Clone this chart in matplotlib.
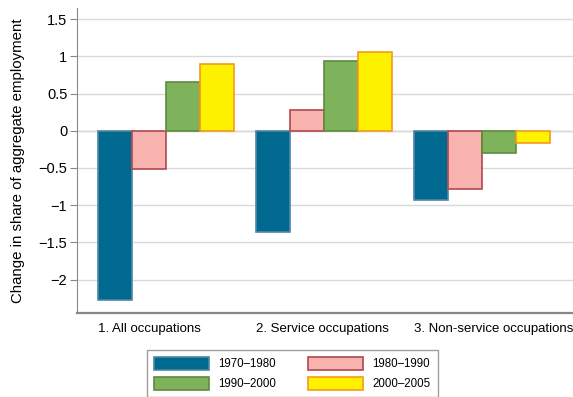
import numpy as np
import matplotlib.pyplot as plt
from matplotlib.patches import Patch

plt.rcParams['font.family'] = ['Liberation Sans', 'DejaVu Sans']

# data
groups = ['1. All occupations', '2. Service occupations', '3. Non-service occupations']
periods = ['1970\u20131980', '1980\u20131990', '1990\u20132000', '2000\u20132005']
v7080 = [-2.27, -1.36, -0.93]
v8090 = [-0.51, 0.28, -0.78]
v9000 = [0.65, 0.94, -0.30]
v0005 = [0.90, 1.06, -0.16]
series = [v7080, v8090, v9000, v0005]

fills = ['#00698f', '#f9b3ae', '#7fb35b', '#fff200']
edges = ['#4f86a6', '#b0484f', '#5e8a3e', '#f59a1b']

fig = plt.figure(figsize=(5.73, 3.97), dpi=100)
ax = fig.add_axes([77/573, 1-313/397, 1-77/573, (313-8)/397])

x = np.arange(len(groups))
w = 0.215
for k, vals in enumerate(series):
    ax.bar(x + (k-1.5)*w, vals, w, color=fills[k], edgecolor=edges[k],
           linewidth=1.2, zorder=3)

ax.set_xlim(-0.563, 2.576)
ax.set_ylim(-2.45, 1.65)
yt = [-2, -1.5, -1, -0.5, 0, 0.5, 1, 1.5]
ax.set_yticks(yt)
ax.set_yticklabels([('%g' % t).replace('-', '\u2212') for t in yt], fontsize=10.5)
# category labels start at the left edge of each group
ax.set_xticks(x - 2*w)
ax.set_xticklabels(groups, fontsize=9.5, ha='left')
ax.tick_params(axis='x', length=0, pad=7)
ax.tick_params(axis='y', length=5, color='#888888', pad=2)
ax.grid(axis='y', color='#d9d9d9', linewidth=1, zorder=0)
ax.axhline(0, color='#d0d0d0', linewidth=1, zorder=1)
for s in ['top', 'right']:
    ax.spines[s].set_visible(False)
ax.spines['left'].set_color('#888888')
ax.spines['bottom'].set_color('#888888')
ax.spines['bottom'].set_linewidth(1.6)
ax.set_ylabel('Change in share of aggregate employment', fontsize=10.8, labelpad=10)

order = [0, 2, 1, 3]
handles = [Patch(facecolor=fills[k], edgecolor=edges[k], linewidth=1.2) for k in order]
labels = [periods[k] for k in order]
leg = fig.legend(handles, labels, loc='upper left', bbox_to_anchor=(147/573, 1-350/397),
                 ncol=2, fontsize=8.3, frameon=True, fancybox=False, borderaxespad=0,
                 handlelength=4.8, handleheight=1.35, columnspacing=2.75,
                 handletextpad=0.8, labelspacing=0.55, borderpad=0.6)
leg.get_frame().set_edgecolor('#888888')
leg.get_frame().set_linewidth(1)

fig.savefig('out.png', dpi=100)
